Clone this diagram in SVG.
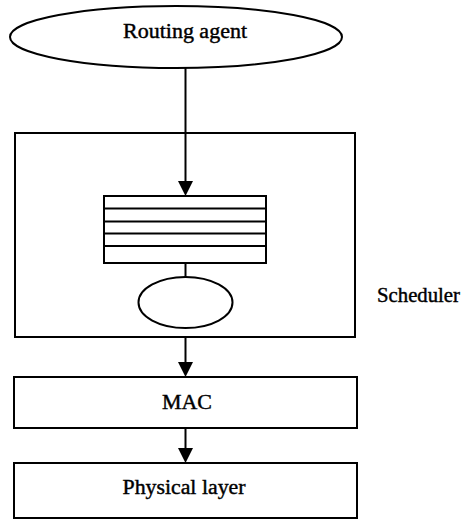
<svg xmlns="http://www.w3.org/2000/svg" width="471" height="520" viewBox="0 0 471 520">
<style>
.s{fill:#fff;stroke:#000;stroke-width:2}
.l{stroke:#000;stroke-width:2;fill:none}
.t{font-family:"Liberation Serif","Times New Roman",serif;font-size:20px;fill:#000;stroke:#000;stroke-width:0.4}
</style>
<rect width="471" height="520" fill="#fff"/>
<g id="routing-agent">
<ellipse class="s" cx="176" cy="37" rx="166" ry="31"/>
<text class="t" x="185" y="38" text-anchor="middle" textLength="124" lengthAdjust="spacingAndGlyphs">Routing agent</text>
</g>
<g id="scheduler">
<rect class="s" x="15" y="133" width="340" height="204"/>
<text class="t" x="377" y="302" textLength="83" lengthAdjust="spacingAndGlyphs">Scheduler</text>
</g>
<g id="queue">
<rect class="s" x="104" y="196" width="162" height="67"/>
<path class="l" d="M104,208.5H266M104,221.5H266M104,233.5H266M104,246H266"/>
</g>
<g id="server">
<ellipse class="s" cx="185.5" cy="302.5" rx="47" ry="25.5"/>
</g>
<g id="mac">
<rect class="s" x="14" y="377" width="343" height="51"/>
<text class="t" x="187" y="409" text-anchor="middle" textLength="50" lengthAdjust="spacingAndGlyphs">MAC</text>
</g>
<g id="physical">
<rect class="s" x="14" y="463" width="343" height="55"/>
<text class="t" x="184" y="494" text-anchor="middle" textLength="123" lengthAdjust="spacingAndGlyphs">Physical layer</text>
</g>
<g id="connectors">
<line class="l" x1="185.5" y1="68" x2="185.5" y2="181"/>
<path d="M178,181 L193,181 L185.5,196 Z" fill="#000"/>
<line class="l" x1="185.5" y1="263" x2="185.5" y2="277"/>
<line class="l" x1="185.5" y1="337" x2="185.5" y2="362"/>
<path d="M178,362 L193,362 L185.5,377 Z" fill="#000"/>
<line class="l" x1="185.5" y1="428" x2="185.5" y2="448"/>
<path d="M178,448 L193,448 L185.5,463 Z" fill="#000"/>
</g>
</svg>
